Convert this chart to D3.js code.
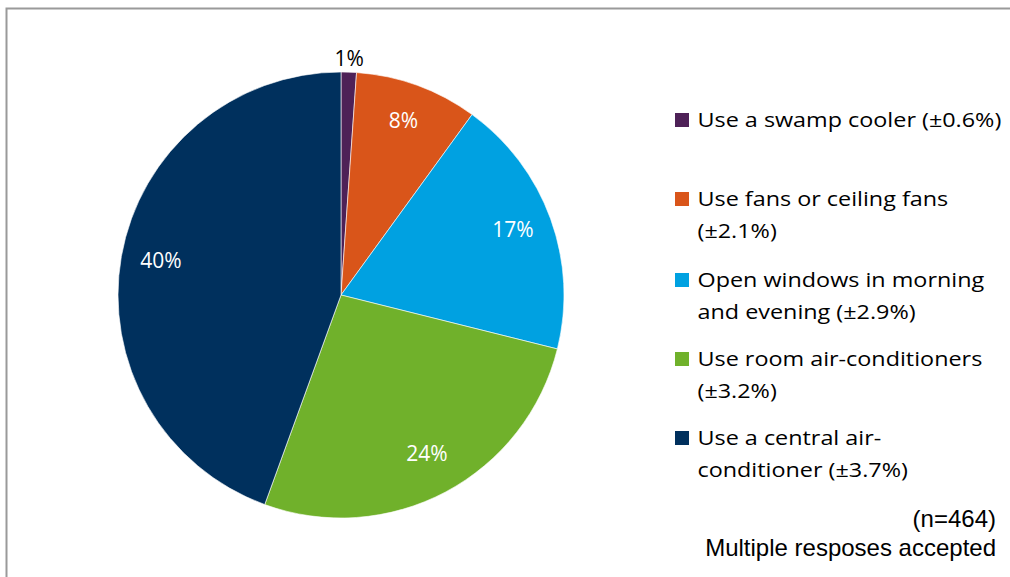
<!DOCTYPE html>
<html>
<head>
<meta charset="utf-8">
<script src="https://cdn.jsdelivr.net/npm/d3@7"></script>
<style>
  html, body { margin: 0; padding: 0; background: #fff; }
  svg { display: block; }
</style>
</head>
<body>
<svg id="chart" width="1010" height="577"></svg>
<script>
// Cooling methods used by households (multiple responses accepted)
const categories = [
  "Use a swamp cooler",
  "Use fans or ceiling fans",
  "Open windows in morning and evening",
  "Use room air-conditioners",
  "Use a central air-conditioner"
];
const values = [1, 8, 17, 24, 40];
const margins = ["±0.6%", "±2.1%", "±2.9%", "±3.2%", "±3.7%"];
// Legend text, wrapped into lines
const legendLines = [
  ["Use a swamp cooler (±0.6%)"],
  ["Use fans or ceiling fans", "(±2.1%)"],
  ["Open windows in morning", "and evening (±2.9%)"],
  ["Use room air-conditioners", "(±3.2%)"],
  ["Use a central air-", "conditioner (±3.7%)"]
];
const colors = ["#4e2157", "#d9551a", "#00a1e1", "#70b12b", "#00305d"];
const sampleNote = "(n=464)";
const responseNote = "Multiple resposes accepted";

const svg = d3.select("#chart");
const font = "'Open Sans', Lato, sans-serif";

// Frame around the chart area
svg.append("rect")
  .attr("x", 6.5).attr("y", 8.5)
  .attr("width", 1100).attr("height", 700)
  .attr("fill", "none")
  .attr("stroke", "#9a9a9a")
  .attr("stroke-width", 2);

const cx = 341, cy = 295, R = 223;
const color = d3.scaleOrdinal().domain(categories).range(colors);

const pie = d3.pie().sort(null).value(d => d.value);
const data = categories.map((c, i) => ({ cat: c, value: values[i] }));
const arcs = pie(data);
const arc = d3.arc().innerRadius(0).outerRadius(R);

const g = svg.append("g").attr("transform", `translate(${cx},${cy})`);
g.selectAll("path.slice")
  .data(arcs)
  .join("path")
  .attr("class", "slice")
  .attr("d", arc)
  .attr("fill", d => color(d.data.cat))
  .attr("stroke", "#ffffff")
  .attr("stroke-width", 0.6);

// Value labels: inside for large slices, just outside for the tiny one
const inLabel = d3.arc().innerRadius(R * 0.82).outerRadius(R * 0.82);
const outLabel = d3.arc().innerRadius(R * 1.065).outerRadius(R * 1.065);
g.selectAll("text.val")
  .data(arcs)
  .join("text")
  .attr("class", "val")
  .attr("transform", d => {
    const small = d.data.value < 3;
    const p = (small ? outLabel : inLabel).centroid(d);
    return `translate(${p[0]},${p[1] - (small ? 0 : 3)})`;
  })
  .attr("text-anchor", "middle")
  .attr("dominant-baseline", "central")
  .attr("font-family", font)
  .attr("font-size", 21)
  .attr("fill", d => d.data.value < 3 ? "#000" : "#fff")
  .text(d => d.data.value + "%");

// Legend
const legendY = [127, 206, 287, 366, 445];
const lineH = 32;
const legendX = 697.5;
const legendWidth = 304; // width of the widest legend line
const leg = svg.append("g");
const texts = [];
categories.forEach((c, i) => {
  leg.append("rect")
    .attr("x", 675).attr("y", legendY[i] - 14)
    .attr("width", 14).attr("height", 14)
    .attr("fill", color(c));
  const t = leg.append("text")
    .attr("font-family", font)
    .attr("font-size", 20.5)
    .attr("fill", "#000");
  legendLines[i].forEach((line, j) => {
    t.append("tspan")
      .attr("x", 0)
      .attr("y", legendY[i] + j * lineH)
      .text(line);
  });
  texts.push(t);
});
// Stretch legend text horizontally so the first line spans the legend width
const w0 = texts[0].node().getComputedTextLength();
const sx = legendWidth / w0;
texts.forEach(t => t.attr("transform", `translate(${legendX},0) scale(${sx},1)`));

// Notes in the lower right corner
const noteFont = "'Liberation Sans', Arial, sans-serif";
svg.append("text")
  .attr("x", 996).attr("y", 527)
  .attr("text-anchor", "end")
  .attr("font-family", noteFont)
  .attr("font-size", 24)
  .attr("fill", "#000")
  .text(sampleNote);
svg.append("text")
  .attr("x", 996).attr("y", 556)
  .attr("text-anchor", "end")
  .attr("font-family", noteFont)
  .attr("font-size", 24)
  .attr("fill", "#000")
  .text(responseNote);
</script>
</body>
</html>
